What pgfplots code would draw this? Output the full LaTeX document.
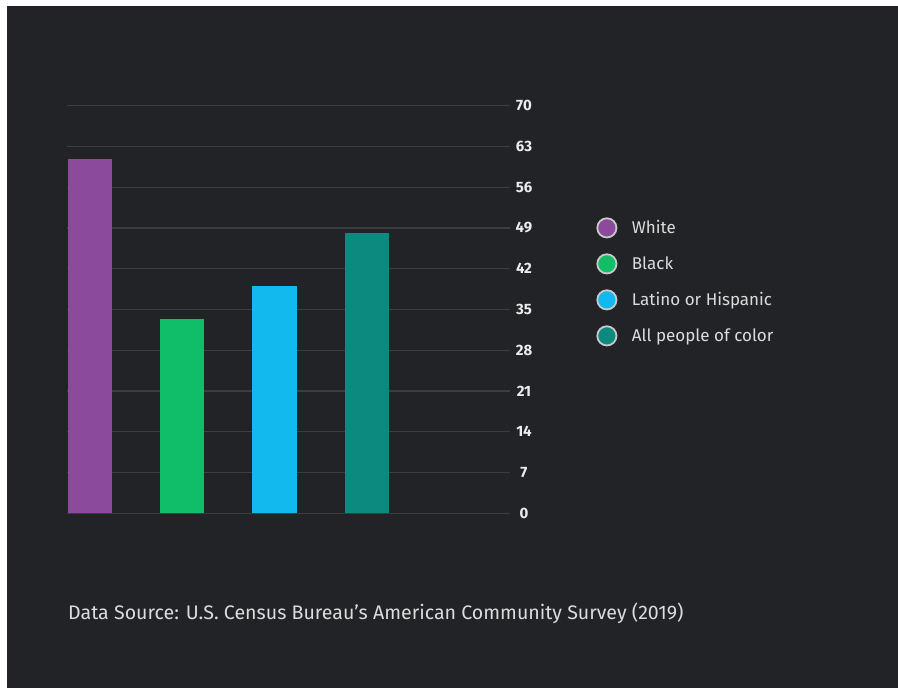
\documentclass[border=0pt]{standalone}
\usepackage{fontspec}
\setmainfont{Fira Sans}
\usepackage{pgfplots}
\pgfplotsset{compat=1.18}
\definecolor{bg}{HTML}{212326}
\definecolor{gridc}{HTML}{3C3D41}
\definecolor{tickc}{HTML}{ECECEC}
\definecolor{legc}{HTML}{DCDCDC}
\definecolor{lgray}{HTML}{C8C8C8}
\definecolor{cW}{RGB}{139,74,155}
\definecolor{cB}{RGB}{16,190,104}
\definecolor{cL}{RGB}{17,185,238}
\definecolor{cP}{RGB}{13,138,128}
\begin{document}
\begin{tikzpicture}[x=1pt,y=1pt]
\fill[white] (0,0) rectangle (898,688);
\fill[bg] (7,0) rectangle (898,681.5);
\begin{axis}[
  at={(67pt,174.7pt)}, anchor=south west,
  scale only axis, width=443pt, height=407.6pt,
  xmin=-0.247, xmax=4.55, ymin=0, ymax=70,
  ytick={0,7,...,70}, xtick=\empty,
  yticklabel pos=right,
  axis line style={draw=none},
  major tick length=0pt,
  ymajorgrids,
  grid style={gridc, line width=1.2pt},
  /pgf/number format/assume math mode=true,
  yticklabel style={font=\bfseries\fontsize{15}{15}\selectfont, text=tickc, anchor=center, xshift=14pt},
  ybar, bar width=44.5pt,
  legend image code/.code={\draw[#1,draw=lgray,line width=1.8pt] (10pt,0pt) circle (9.6pt);},
  legend style={at={(1.195,0.726)}, anchor=north west, draw=none, fill=none,
    inner sep=0pt, outer sep=0pt, font=\fontsize{17}{17}\selectfont, text=legc,
    row sep=15pt, column sep=0pt, nodes={inner sep=0pt}},
  legend cell align=left,
]
\addplot[fill=cW, draw=none, bar shift=0pt] coordinates {(0,60.8)};
\addlegendentry{\hspace{14.5pt}White}
\addplot[fill=cB, draw=none, bar shift=0pt] coordinates {(1,33.4)};
\addlegendentry{\hspace{14.5pt}Black}
\addplot[fill=cL, draw=none, bar shift=0pt] coordinates {(2,39.0)};
\addlegendentry{\hspace{14.5pt}Latino or Hispanic}
\addplot[fill=cP, draw=none, bar shift=0pt] coordinates {(3,48.1)};
\addlegendentry{\hspace{14.5pt}All people of color}
\end{axis}
\node[anchor=base west, inner sep=0pt, text=legc, font=\fontsize{19.6}{19.6}\selectfont] at (68,68) {Data Source: U.S. Census Bureau’s American Community Survey (2019)};
\end{tikzpicture}
\end{document}
